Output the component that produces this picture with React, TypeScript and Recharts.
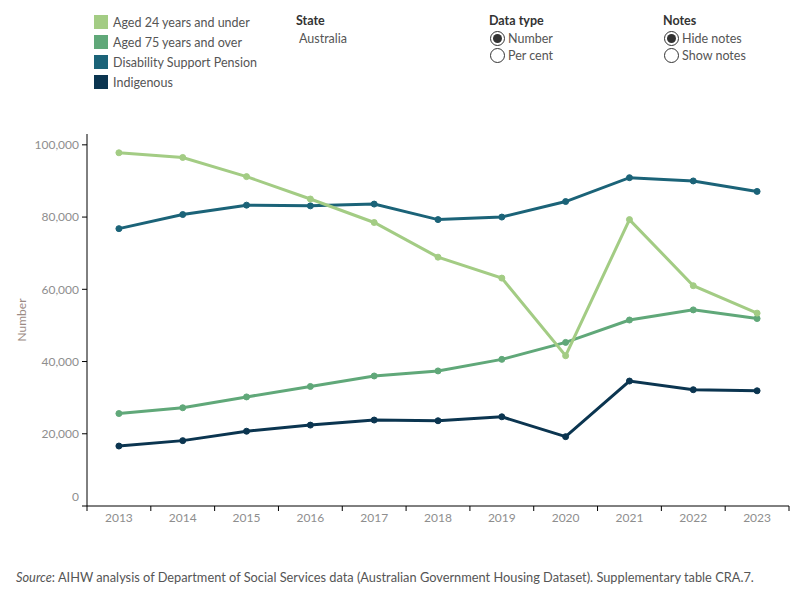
import React from "react";
import { LineChart, Line, XAxis, YAxis } from "recharts";

// Number of people, by year and group
const years = [2013, 2014, 2015, 2016, 2017, 2018, 2019, 2020, 2021, 2022, 2023];
const aged24Under = [97800, 96500, 91200, 85000, 78500, 68900, 63100, 41600, 79300, 61000, 53400];
const aged75Over = [25600, 27200, 30200, 33100, 36000, 37400, 40600, 45300, 51500, 54300, 51900];
const disabilityPension = [76800, 80700, 83300, 83100, 83600, 79300, 80000, 84300, 90900, 90000, 87100];
const indigenous = [16600, 18100, 20700, 22400, 23800, 23600, 24700, 19200, 34600, 32200, 31900];
const yTicks = [0, 20000, 40000, 60000, 80000, 100000];

const seriesInfo = [
  { key: "aged24", name: "Aged 24 years and under", color: "#a3cc84" },
  { key: "aged75", name: "Aged 75 years and over", color: "#60a879" },
  { key: "dsp", name: "Disability Support Pension", color: "#1b6378" },
  { key: "indig", name: "Indigenous", color: "#0b3550" },
];

const rows = years.map((year, i) => ({
  year,
  aged24: aged24Under[i],
  aged75: aged75Over[i],
  dsp: disabilityPension[i],
  indig: indigenous[i],
}));

const FONT = "Lato, 'Noto Sans', sans-serif";
const CHART_W = 800;
const CHART_H = 600;
const MARGIN = { top: 134, right: 11, bottom: 64, left: 0 };
const Y_AXIS_W = 87;
const STEP = (CHART_W - MARGIN.left - MARGIN.right - Y_AXIS_W) / years.length;

const fmt = (v: number) => v.toLocaleString("en-US");

// Year label centred in its band, with tick marks on the band edges
const YearTick = (props: any) => {
  const { x, y, payload, index } = props;
  const axisY = y - 7;
  const isLast = index === years.length - 1;
  return (
    <g>
      <line x1={x - STEP / 2} x2={x - STEP / 2} y1={axisY} y2={axisY + 5} stroke="#000" strokeWidth={1} />
      {isLast && (
        <line x1={x + STEP / 2} x2={x + STEP / 2} y1={axisY} y2={axisY + 5} stroke="#000" strokeWidth={1} />
      )}
      <text x={x} y={axisY + 7} dy="0.71em" textAnchor="middle" fill="#8e8e8e" fontSize={12} fontFamily={FONT}>
        {payload.value}
      </text>
    </g>
  );
};

// Value label; the zero label sits just above the axis line
const ValueTick = (props: any) => {
  const { x, y, payload } = props;
  const shift = payload.value === 0 ? -9 : 0;
  return (
    <text x={x} y={y + shift} dy="0.355em" textAnchor="end" fill="#8e8e8e" fontSize={12} fontFamily={FONT}>
      {fmt(payload.value)}
    </text>
  );
};

const Radio = ({ checked, label, top, left }: { checked: boolean; label: string; top: number; left: number }) => (
  <div style={{ position: "absolute", top, left, display: "flex", alignItems: "center", height: 17 }}>
    <div
      style={{
        width: 15,
        height: 15,
        borderRadius: "50%",
        border: checked ? "1.5px solid #333" : "1px solid #333",
        boxSizing: "border-box",
        display: "flex",
        alignItems: "center",
        justifyContent: "center",
        background: "#fff",
      }}
    >
      {checked && <div style={{ width: 9, height: 9, borderRadius: "50%", background: "#333" }} />}
    </div>
    <span style={{ marginLeft: 3, fontSize: 12.5, color: "#555" }}>{label}</span>
  </div>
);

export default function App() {
  return (
    <div
      style={{
        position: "absolute",
        top: 0,
        left: 0,
        width: CHART_W,
        height: CHART_H,
        background: "#fff",
        fontFamily: FONT,
      }}
    >
      {/* Legend */}
      {seriesInfo.map((s, i) => (
        <div
          key={s.key}
          style={{ position: "absolute", left: 94, top: 14 + i * 20, display: "flex", alignItems: "center", height: 16 }}
        >
          <div style={{ width: 14, height: 14, background: s.color }} />
          <span style={{ marginLeft: 5, fontSize: 12.5, color: "#555" }}>{s.name}</span>
        </div>
      ))}

      {/* Filters */}
      <div style={{ position: "absolute", left: 296, top: 13, fontSize: 12.5, fontWeight: 700, color: "#333" }}>State</div>
      <div style={{ position: "absolute", left: 299, top: 31, fontSize: 12.5, color: "#555" }}>Australia</div>

      <div style={{ position: "absolute", left: 489, top: 13, fontSize: 12.5, fontWeight: 700, color: "#333" }}>Data type</div>
      <Radio checked label="Number" top={30} left={490} />
      <Radio checked={false} label="Per cent" top={47} left={490} />

      <div style={{ position: "absolute", left: 663, top: 13, fontSize: 12.5, fontWeight: 700, color: "#333" }}>Notes</div>
      <Radio checked label="Hide notes" top={30} left={664} />
      <Radio checked={false} label="Show notes" top={47} left={664} />

      <div style={{ position: "absolute", left: 0, top: 0 }}>
        <LineChart width={CHART_W} height={CHART_H} data={rows} margin={MARGIN}>
          <XAxis
            dataKey="year"
            type="number"
            domain={[years[0] - 0.5, years[years.length - 1] + 0.5]}
            ticks={years}
            allowDataOverflow
            height={30}
            tickSize={5}
            tickMargin={2}
            tickLine={false}
            axisLine={{ stroke: "#000", strokeWidth: 1 }}
            tick={<YearTick />}
            interval={0}
          />
          <YAxis
            width={Y_AXIS_W}
            domain={[0, 103000]}
            ticks={yTicks}
            allowDataOverflow
            tickSize={5}
            tickMargin={3}
            axisLine={{ stroke: "#000", strokeWidth: 1 }}
            tickLine={{ stroke: "#000", strokeWidth: 1 }}
            tick={<ValueTick />}
            interval={0}
            label={{
              value: "Number",
              angle: -90,
              position: "insideLeft",
              offset: 22,
              style: { fill: "#9b8a84", fontSize: 12, fontFamily: FONT, textAnchor: "middle" },
            }}
          />
          {[seriesInfo[2], seriesInfo[3], seriesInfo[1], seriesInfo[0]].map((s) => (
            <Line
              key={s.key}
              dataKey={s.key}
              name={s.name}
              stroke={s.color}
              strokeWidth={3}
              dot={{ r: 3, fill: s.color, stroke: s.color, strokeWidth: 1 }}
              activeDot={false}
              isAnimationActive={false}
            />
          ))}
        </LineChart>
      </div>

      {/* Source note */}
      <div style={{ position: "absolute", left: 16, top: 569, fontSize: 12.8, color: "#555", whiteSpace: "nowrap" }}>
        <i>Source</i>: AIHW analysis of Department of Social Services data (Australian Government Housing Dataset). Supplementary table CRA.7.
      </div>
    </div>
  );
}
